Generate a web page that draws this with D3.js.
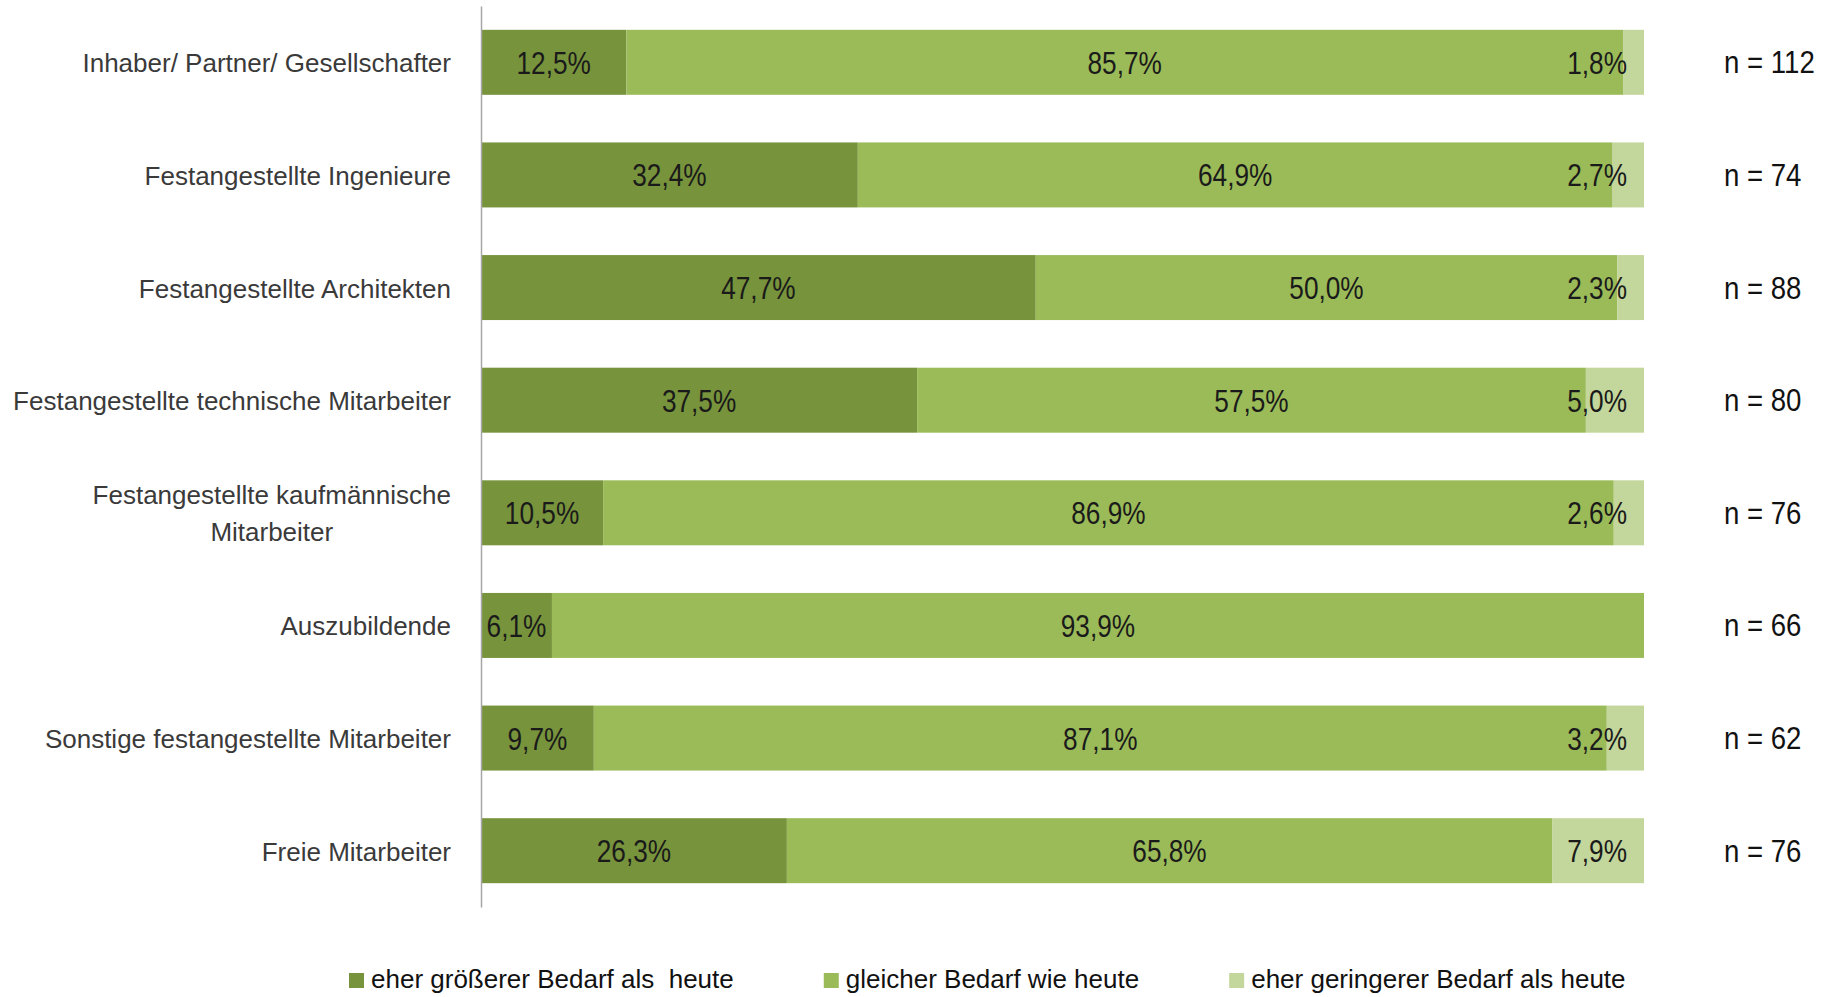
<!DOCTYPE html>
<html lang="de">
<head>
<meta charset="utf-8">
<script src="https://cdn.jsdelivr.net/npm/d3@7"></script>
<style>
  html, body { margin: 0; padding: 0; background: #fff; }
  svg { display: block; font-family: "Liberation Sans", Arial, "Helvetica Neue", sans-serif; }
</style>
</head>
<body>
<svg id="chart" width="1830" height="997"></svg>
<script>
// Personalbedarf je Mitarbeitergruppe (Anteile in %)
const categories = [
  "Inhaber/ Partner/ Gesellschafter",
  "Festangestellte Ingenieure",
  "Festangestellte Architekten",
  "Festangestellte technische Mitarbeiter",
  "Festangestellte kaufmännische\nMitarbeiter",
  "Auszubildende",
  "Sonstige festangestellte Mitarbeiter",
  "Freie Mitarbeiter"
];
const seriesNames = [
  "eher größerer Bedarf als  heute",
  "gleicher Bedarf wie heute",
  "eher geringerer Bedarf als heute"
];
const groesserBedarf = [12.5, 32.4, 47.7, 37.5, 10.5, 6.1, 9.7, 26.3];
const gleicherBedarf = [85.7, 64.9, 50.0, 57.5, 86.9, 93.9, 87.1, 65.8];
const geringererBedarf = [1.8, 2.7, 2.3, 5.0, 2.6, 0.0, 3.2, 7.9];
const sampleSizes = [112, 74, 88, 80, 76, 66, 62, 76];

const colors = ["#77933c", "#9bbb59", "#c3d69b"];

const svg = d3.select("#chart");

const x = d3.scaleLinear().domain([0, 100]).range([481, 1644]);
const y = d3.scaleBand()
  .domain(categories)
  .range([6, 907])
  .paddingInner(0.423)
  .paddingOuter(0.2115);

// Stacked rows
const rows = categories.map((c, i) => ({
  cat: c,
  values: [groesserBedarf[i], gleicherBedarf[i], geringererBedarf[i]]
}));
const keys = [0, 1, 2];
const stack = d3.stack().keys(keys).value((d, k) => d.values[k]);
const stacked = stack(rows);

const barLayer = svg.append("g");
stacked.forEach((layer, si) => {
  barLayer.selectAll(null)
    .data(layer)
    .join("rect")
    .attr("x", d => x(d[0]))
    .attr("y", d => y(d.data.cat))
    .attr("width", d => x(d[1]) - x(d[0]))
    .attr("height", y.bandwidth())
    .attr("fill", colors[si]);
});

// Value labels inside the segments, kept inside the plot on the right
const fmt = v => d3.format(".1f")(v).replace(".", ",") + "%";
const valueScale = 0.82;
const rightLimit = x(100) - 17;
const labelLayer = svg.append("g");
stacked.forEach(layer => {
  layer.forEach(d => {
    const v = d[1] - d[0];
    if (v <= 0) return;
    const cy = y(d.data.cat) + y.bandwidth() / 2 + 11.5;
    let cx = (x(d[0]) + x(d[1])) / 2;
    const t = labelLayer.append("text")
      .attr("text-anchor", "middle")
      .attr("font-size", 32)
      .attr("fill", "#1a1a1a")
      .text(fmt(v));
    const w = t.node().getComputedTextLength() * valueScale;
    if (cx + w / 2 > rightLimit) cx = rightLimit - w / 2;
    t.attr("transform", `translate(${cx},${cy}) scale(${valueScale},1)`);
  });
});

// Category axis
const axis = svg.append("g")
  .attr("transform", `translate(${x(0)},0)`)
  .call(d3.axisLeft(y).tickSize(0).tickSizeOuter(0).tickFormat(""));
axis.select(".domain").attr("stroke", "#a6a6a6").attr("stroke-width", 1.5);

axis.selectAll(".tick").each(function(c) {
  const g = d3.select(this);
  g.select("text").remove();
  const lines = c.split("\n");
  const tx = -30;
  const t = g.append("text")
    .attr("fill", "#3a3a3a")
    .attr("font-size", 26)
    .attr("text-anchor", "end");
  if (lines.length === 1) {
    t.attr("x", tx).attr("y", 10).text(lines[0]);
  } else {
    const first = t.append("tspan").attr("x", tx).attr("y", -9).text(lines[0]);
    const w1 = first.node().getComputedTextLength();
    t.append("tspan")
      .attr("x", tx - w1 / 2)
      .attr("y", 28)
      .attr("text-anchor", "middle")
      .text(lines[1]);
  }
});

// Sample sizes to the right of each bar
const nScale = 0.89;
svg.append("g").selectAll("text")
  .data(categories)
  .join("text")
  .attr("transform", (c) => `translate(1724,${y(c) + y.bandwidth() / 2 + 11}) scale(${nScale},1)`)
  .attr("font-size", 31)
  .attr("fill", "#111")
  .text((c, i) => `n = ${sampleSizes[i]}`);

// Legend
const legend = svg.append("g");
let lx = 349;
const legendBase = 988;
seriesNames.forEach((name, i) => {
  legend.append("rect")
    .attr("x", lx).attr("y", legendBase - 15)
    .attr("width", 15).attr("height", 15)
    .attr("fill", colors[i]);
  const t = legend.append("text")
    .attr("x", lx + 22).attr("y", legendBase)
    .attr("font-size", 26)
    .attr("fill", "#111")
    .style("white-space", "pre")
    .text(name);
  lx += 22 + t.node().getComputedTextLength() + 90;
});
</script>
</body>
</html>
